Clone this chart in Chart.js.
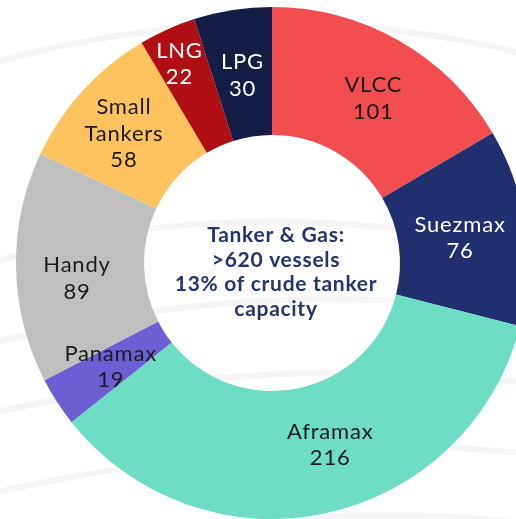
<!DOCTYPE html>
<html>
<head>
<meta charset="utf-8">
<script src="https://cdn.jsdelivr.net/npm/chart.js@4.4.1/dist/chart.umd.min.js"></script>
<style>
html,body{margin:0;padding:0;width:516px;height:519px;overflow:hidden;background:#ffffff;}
#wrap{position:absolute;left:-28px;top:-37px;width:600px;height:600px;}
</style>
</head>
<body>
<div id="wrap"><canvas id="c" width="600" height="600"></canvas></div>
<script>
// Data
const categories = ["VLCC", "Suezmax", "Aframax", "Panamax", "Handy", "Small Tankers", "LNG", "LPG"];
const labelLines = [["VLCC"], ["Suezmax"], ["Aframax"], ["Panamax"], ["Handy"], ["Small", "Tankers"], ["LNG"], ["LPG"]];
const vesselCounts = [101, 76, 216, 19, 89, 58, 22, 30];
const centerText = ["Tanker & Gas:", ">620 vessels", "13% of crude tanker", "capacity"];

// Styles
const sliceColors = ["#F24E50", "#20306F", "#6DDEC3", "#6C5FD3", "#BFBFBF", "#FEC35F", "#B00F13", "#141D45"];
const labelColors = ["#1b1b1b", "#ffffff", "#1b1b1b", "#1b1b1b", "#1b1b1b", "#1b1b1b", "#ffffff", "#ffffff"];
const labelNudge = [[6, 2], [-2, 2], [18, -6], [0, 0], [-3, 12], [-6, 0], [-14, -24], [0, 2]];

const bgCurves = {
  id: 'bgCurves',
  beforeDraw(chart) {
    const ctx = chart.ctx;
    ctx.save();
    ctx.strokeStyle = 'rgba(230,230,230,0.4)';
    ctx.lineWidth = 6;
    ctx.lineCap = 'round';
    const curves = [
      [[20, 100], [200, 50], [400, 40], [620, 110]],
      [[20, 300], [200, 240], [420, 250], [620, 300]],
      [[20, 380], [250, 320], [450, 330], [620, 360]],
      [[20, 450], [240, 400], [460, 400], [620, 430]],
      [[20, 530], [250, 480], [450, 470], [620, 500]],
      [[20, 590], [260, 550], [460, 540], [620, 570]]
    ];
    curves.forEach(c => {
      ctx.beginPath();
      ctx.moveTo(c[0][0], c[0][1]);
      ctx.bezierCurveTo(c[1][0], c[1][1], c[2][0], c[2][1], c[3][0], c[3][1]);
      ctx.stroke();
    });
    ctx.restore();
  }
};

const sliceLabels = {
  id: 'sliceLabels',
  afterDatasetsDraw(chart) {
    const ctx = chart.ctx;
    const meta = chart.getDatasetMeta(0);
    ctx.save();
    ctx.font = '22px Lato, "Open Sans", sans-serif';
    ctx.letterSpacing = '0.8px';
    ctx.textAlign = 'center';
    ctx.textBaseline = 'middle';
    meta.data.forEach((arc, i) => {
      const p = arc.getProps(['x', 'y', 'startAngle', 'endAngle', 'innerRadius', 'outerRadius'], true);
      const a = (p.startAngle + p.endAngle) / 2;
      const r = (p.innerRadius + p.outerRadius) / 2;
      const x = p.x + Math.cos(a) * r + labelNudge[i][0];
      const y = p.y + Math.sin(a) * r + labelNudge[i][1];
      const lines = labelLines[i].concat([String(chart.data.datasets[0].data[i])]);
      const lh = 26.5;
      const y0 = y - (lines.length - 1) * lh / 2;
      ctx.fillStyle = labelColors[i];
      lines.forEach((t, k) => ctx.fillText(t, x, y0 + k * lh));
    });
    // center text
    const c = meta.data[0];
    ctx.font = 'bold 21px Lato, "Open Sans", sans-serif';
    ctx.letterSpacing = '0.7px';
    ctx.fillStyle = '#25336E';
    const lh2 = 24.5;
    const cy0 = c.y + 9 - (centerText.length - 1) * lh2 / 2;
    centerText.forEach((t, k) => ctx.fillText(t, c.x + 4, cy0 + k * lh2));
    ctx.restore();
  }
};

new Chart(document.getElementById('c'), {
  type: 'doughnut',
  data: {
    labels: categories,
    datasets: [{
      data: vesselCounts,
      backgroundColor: sliceColors,
      borderWidth: 0,
      hoverOffset: 0
    }]
  },
  options: {
    responsive: false,
    animation: false,
    radius: 256,
    cutout: '50%',
    layout: { padding: 0 },
    events: [],
    plugins: {
      legend: { display: false },
      tooltip: { enabled: false }
    }
  },
  plugins: [bgCurves, sliceLabels]
});
</script>
</body>
</html>
